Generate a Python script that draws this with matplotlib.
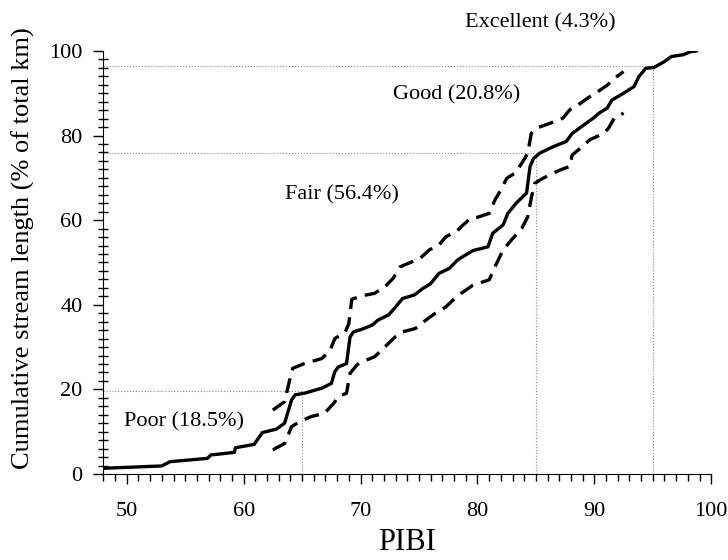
import numpy as np
import matplotlib
matplotlib.use('Agg')
import matplotlib.pyplot as plt
from matplotlib.ticker import MultipleLocator

plt.rcParams['font.family'] = ['Liberation Serif', 'DejaVu Serif']

# cumulative stream length curve (solid)
pibi_mid = [48.0, 53.0, 53.7, 56.9, 57.2, 59.2, 59.3, 60.9, 61.6, 62.8, 63.5, 64.1, 64.4, 65.2,
            66.7, 67.5, 67.8, 68.1, 68.8, 69.1, 69.4, 70.1, 71.0, 71.5, 72.4, 73.0, 73.6, 74.6,
            75.3, 76.0, 76.7, 77.6, 78.3, 79.0, 79.6, 80.9, 81.3, 82.2, 82.6, 83.3, 84.2, 84.5,
            84.8, 85.3, 86.5, 87.6, 88.1, 89.1, 89.9, 90.4, 91.1, 91.5, 92.5, 93.4, 93.8, 94.4,
            95.1, 96.0, 96.6, 97.6, 98.2, 98.7]
cum_mid = [1.35, 1.9, 2.9, 3.7, 4.5, 5.1, 6.2, 7.0, 9.8, 10.6, 12.0, 17.5, 18.7, 19.1,
           20.3, 21.4, 24.2, 25.3, 26.1, 32.4, 33.6, 34.2, 35.2, 36.4, 37.6, 39.5, 41.5, 42.3,
           43.8, 45.0, 47.4, 48.6, 50.6, 51.8, 52.8, 53.7, 56.9, 58.9, 61.6, 64.0, 66.4, 72.7,
           74.6, 75.8, 77.4, 78.6, 80.5, 82.5, 84.1, 85.3, 86.5, 88.4, 90.0, 91.6, 93.9, 95.9,
           96.1, 97.5, 98.7, 99.1, 99.8, 100.0]

# upper confidence band (dashed)
pibi_up = [62.5, 63.5, 63.9, 64.2, 65.2, 66.7, 67.4, 67.8, 68.7, 69.0, 69.25, 70.1, 71.2,
           72.1, 72.8, 73.4, 74.1, 75.1, 75.9, 76.7, 77.3, 78.2, 78.7, 79.4, 79.9, 81.0, 81.5,
           82.0, 82.5, 83.2, 83.8, 84.3, 84.6, 85.0, 86.2, 87.3, 87.9, 88.8, 89.5, 90.3, 91.1,
           91.7, 92.5]
cum_up = [15.1, 17.1, 21.8, 25.0, 26.1, 27.3, 29.3, 32.0, 33.6, 35.6, 41.3, 42.1, 42.7,
          44.3, 46.3, 49.0, 49.8, 51.0, 53.0, 54.1, 56.1, 57.3, 58.7, 60.4, 60.6, 61.6, 64.8,
          67.1, 69.9, 71.1, 73.5, 75.8, 80.5, 81.7, 82.9, 84.1, 86.1, 87.6, 89.0, 90.4, 91.9,
          93.5, 95.1]

# lower confidence band (dashed)
pibi_lo = [62.5, 63.5, 64.1, 64.8, 65.8, 66.9, 67.7, 68.1, 68.8, 69.1, 69.7, 70.1, 71.2,
           72.1, 73.0, 73.6, 74.7, 75.6, 76.4, 77.3, 77.9, 78.6, 79.6, 81.0, 81.5, 82.2, 82.9,
           83.8, 84.3, 84.6, 84.9, 85.6, 87.1, 87.9, 88.1, 88.8, 89.6, 90.8, 91.2, 91.7, 92.5]
cum_lo = [5.7, 7.2, 11.2, 12.4, 13.6, 14.3, 16.7, 18.3, 19.1, 23.8, 25.8, 26.5, 27.7,
          30.1, 32.5, 33.6, 34.4, 36.4, 38.0, 39.5, 41.1, 42.7, 44.6, 45.9, 49.0, 53.0, 55.3,
          58.1, 60.8, 65.2, 68.7, 69.9, 71.9, 72.7, 75.4, 77.0, 79.0, 80.5, 81.7, 84.1, 85.3]

# class boundaries (PIBI) and cumulative % where each class ends
bounds = [65, 85, 95]
bound_cum = [19.6, 75.9, 96.5]
class_labels = ['Poor (18.5%)', 'Fair (56.4%)', 'Good (20.8%)', 'Excellent (4.3%)']
label_x = [54.9, 68.4, 78.2, 85.4]
label_y = [12.4, 66.0, 89.7, 106.7]

fig = plt.figure(figsize=(7.28, 5.6), dpi=100)
ax = fig.add_axes([0.142, 0.1536, 0.835, 0.7554])

# dotted guides
for b, c in zip(bounds, bound_cum):
    ax.plot([48, b], [c, c], color='#888888', linestyle=':', linewidth=0.8)
    ax.plot([b, b], [0, c], color='#888888', linestyle=':', linewidth=0.8)

ax.plot(pibi_mid, cum_mid, color='black', linewidth=2.4, solid_joinstyle='round')
ax.plot(pibi_up, cum_up, color='black', linewidth=2.4, linestyle=(0, (4.5, 2.5)))
ax.plot(pibi_lo, cum_lo, color='black', linewidth=2.4, linestyle=(0, (4.5, 2.5)))

for t, x, y in zip(class_labels, label_x, label_y):
    ax.text(x, y, t, ha='center', va='center', fontsize=16, clip_on=False)

ax.set_xlim(48, 100)
ax.set_ylim(0, 100)
ax.xaxis.set_major_locator(MultipleLocator(10))
ax.xaxis.set_minor_locator(MultipleLocator(1))
ax.yaxis.set_major_locator(MultipleLocator(20))
ax.yaxis.set_minor_locator(MultipleLocator(2))
ax.tick_params(axis='both', which='major', labelsize=16, length=7, width=1, direction='out')
ax.tick_params(axis='x', which='major', pad=13)
ax.tick_params(axis='y', which='major', pad=8)
ax.tick_params(axis='both', which='minor', length=5, width=1, direction='out')
ax.tick_params(axis='y', which='minor', direction='inout', length=7)

ax.spines['top'].set_visible(False)
ax.spines['right'].set_visible(False)

fig.text(407 / 728, 1 - 543 / 560, 'PIBI', fontsize=22, ha='center', va='center')
fig.text(23 / 728, 1 - 248 / 560, 'Cumulative stream length (% of total km)',
         fontsize=19, rotation=90, ha='center', va='center')

plt.savefig('out.png', dpi=100)
